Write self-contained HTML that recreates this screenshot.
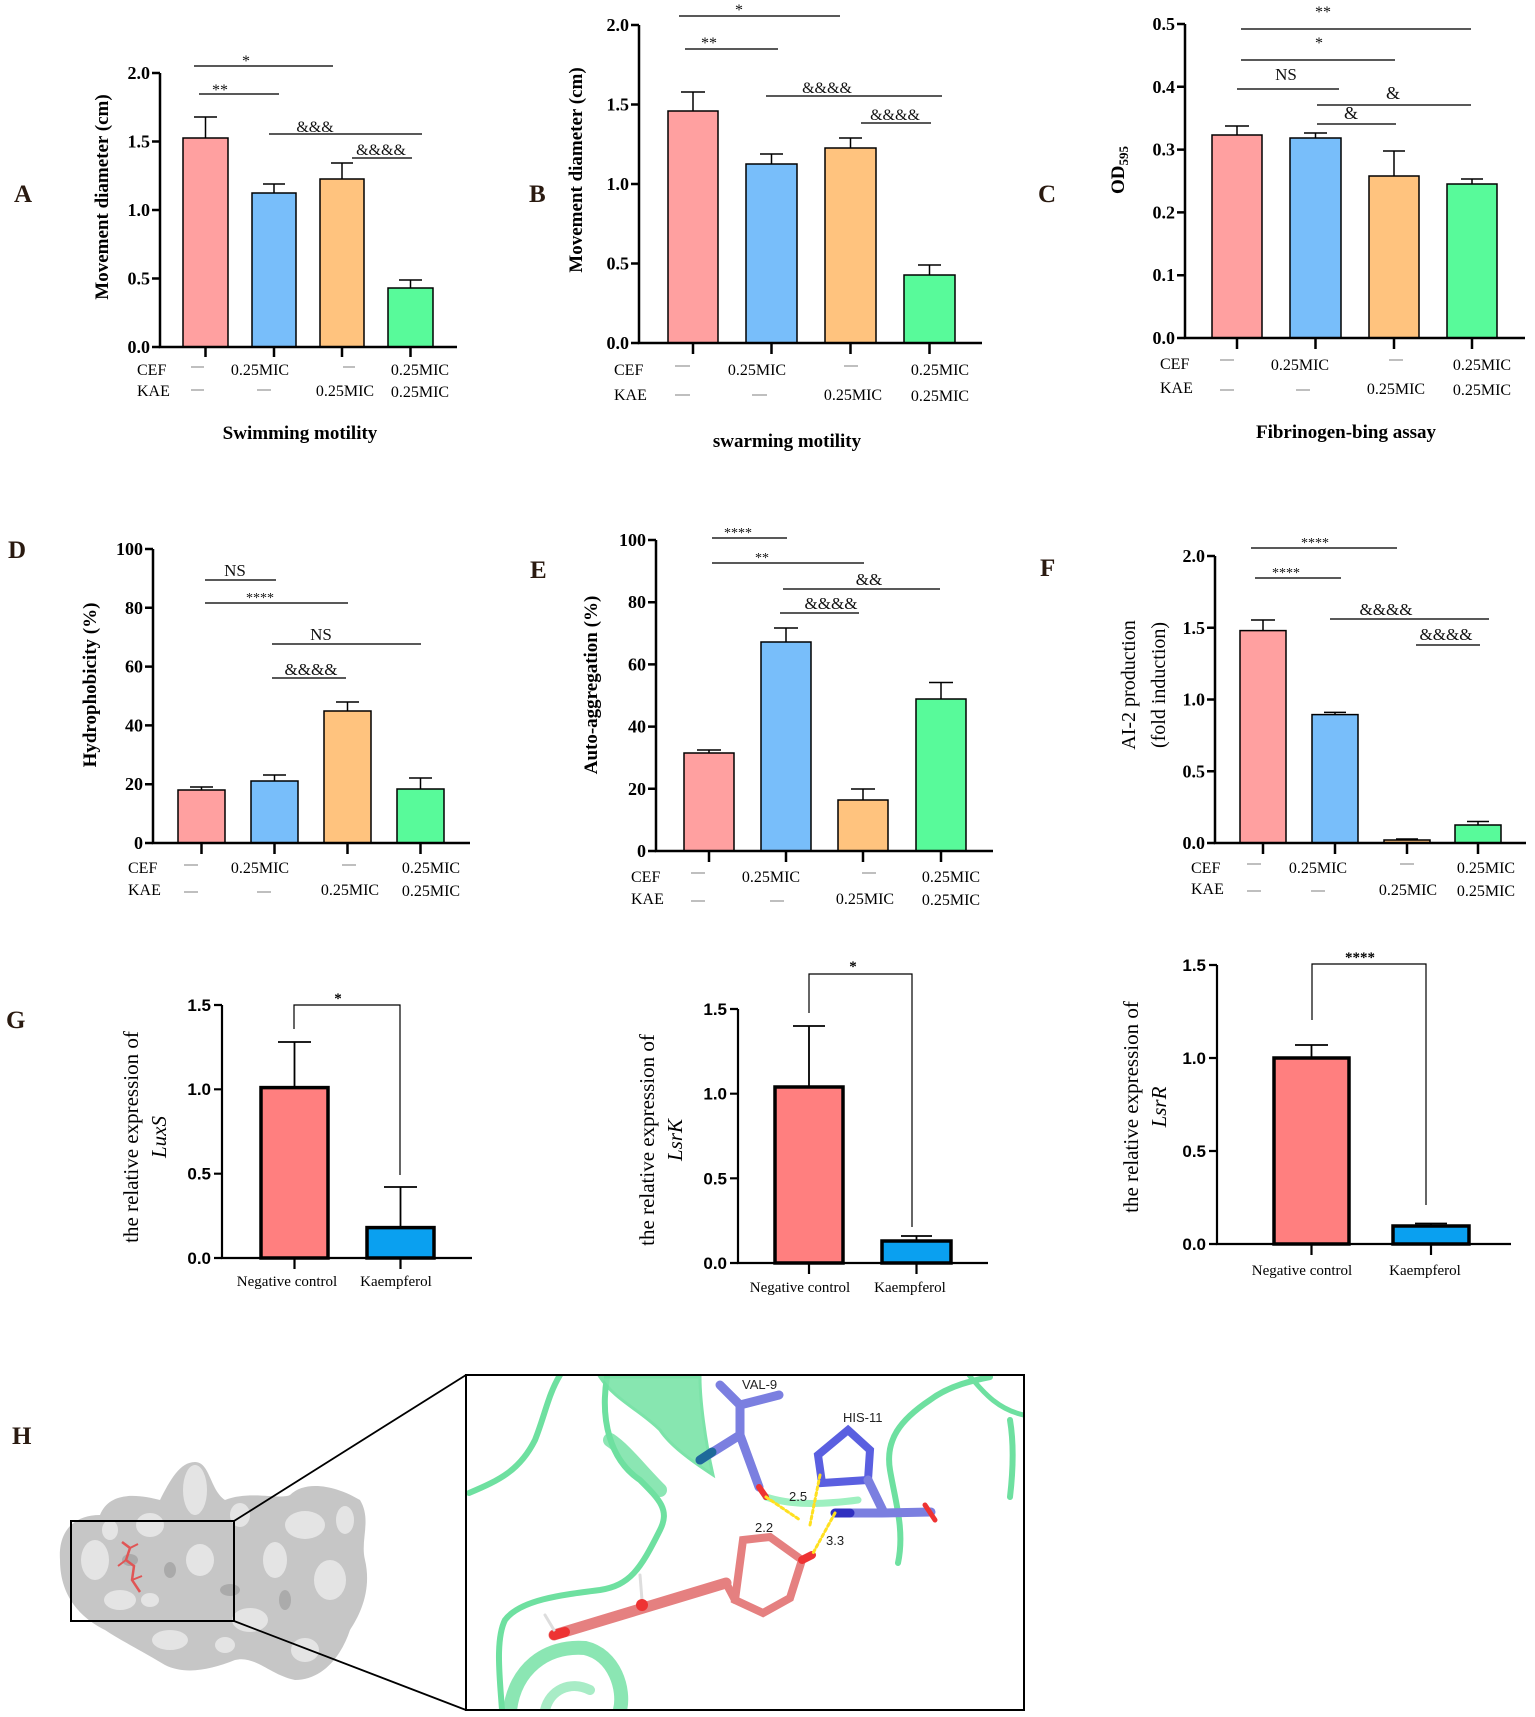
<!DOCTYPE html>
<html><head><meta charset="utf-8"><style>
html,body{margin:0;padding:0;background:#fff;}
svg{display:block;}
.t{font-family:"Liberation Serif",serif;}
.tb{font-family:"Liberation Serif",serif;font-weight:bold;}
.s{font-family:"Liberation Sans",sans-serif;}
</style></head><body>
<svg width="1535" height="1717" viewBox="0 0 1535 1717" xmlns="http://www.w3.org/2000/svg">
<rect width="1535" height="1717" fill="#fff"/>

<!-- Panel letters -->
<g class="tb" font-size="25" fill="#2a1a10">
<text x="14" y="202">A</text><text x="529" y="202">B</text><text x="1038" y="202">C</text>
<text x="8" y="558">D</text><text x="530" y="578">E</text><text x="1040" y="576">F</text>
<text x="6" y="1028">G</text><text x="12" y="1444">H</text>
</g>

<!-- ===== A ===== -->
<g stroke="#000" fill="none">
<rect x="183" y="138" width="45" height="209" fill="#FFA0A0" stroke-width="1.5"/>
<rect x="252" y="193" width="44" height="154" fill="#78BEFA" stroke-width="1.5"/>
<rect x="320" y="179" width="44" height="168" fill="#FFC37E" stroke-width="1.5"/>
<rect x="388" y="288" width="45" height="59" fill="#58FA9A" stroke-width="1.5"/>
<path d="M205.5 138V117M194 117H217M274 193V184M263 184H285M342 179V163M331 163H353M410.5 288V280M399 280H422" stroke-width="1.5"/>
<path d="M160 73V347H457" stroke-width="2.5"/>
<path d="M152 73H160M152 141.5H160M152 210H160M152 278.5H160M152 347H160M205.5 347V357M274 347V357M342 347V357M410.5 347V357" stroke-width="2.5"/>
<path d="M194 66H333M199 94H279M269 134H422M352 158H412" stroke="#222" stroke-width="1.6"/>
</g>
<g class="tb" font-size="18" text-anchor="end"><text x="150" y="79">2.0</text><text x="150" y="147.5">1.5</text><text x="150" y="216">1.0</text><text x="150" y="284.5">0.5</text><text x="150" y="353">0.0</text></g>
<g class="t" font-size="16" text-anchor="middle" fill="#111"><text x="246" y="66">*</text><text x="220" y="95">**</text><text x="315" y="132">&amp;&amp;&amp;</text><text x="381" y="155">&amp;&amp;&amp;&amp;</text></g>
<text class="tb" font-size="19" transform="translate(108,197) rotate(-90)" text-anchor="middle">Movement diameter (cm)</text>

<!-- ===== B ===== -->
<g stroke="#000" fill="none">
<rect x="668" y="111" width="50" height="232" fill="#FFA0A0" stroke-width="1.5"/>
<rect x="746" y="164" width="51" height="179" fill="#78BEFA" stroke-width="1.5"/>
<rect x="825" y="148" width="51" height="195" fill="#FFC37E" stroke-width="1.5"/>
<rect x="904" y="275" width="51" height="68" fill="#58FA9A" stroke-width="1.5"/>
<path d="M693 111V92M681 92H705M771.5 164V154M760 154H783M850.5 148V138M839 138H862M929.5 275V265M918 265H941" stroke-width="1.5"/>
<path d="M639 25V343H982" stroke-width="2.5"/>
<path d="M631 25H639M631 104.5H639M631 184H639M631 263.5H639M631 343H639M693 343V354M771.5 343V354M850.5 343V354M929.5 343V354" stroke-width="2.5"/>
<path d="M679 16H840M685 49H778M766 96H942M861 123H931" stroke="#222" stroke-width="1.6"/>
</g>
<g class="tb" font-size="18" text-anchor="end"><text x="629" y="31">2.0</text><text x="629" y="110.5">1.5</text><text x="629" y="190">1.0</text><text x="629" y="269.5">0.5</text><text x="629" y="349">0.0</text></g>
<g class="t" font-size="16" text-anchor="middle" fill="#111"><text x="739" y="15">*</text><text x="709" y="48">**</text><text x="827" y="93">&amp;&amp;&amp;&amp;</text><text x="895" y="120">&amp;&amp;&amp;&amp;</text></g>
<text class="tb" font-size="19" transform="translate(582,170) rotate(-90)" text-anchor="middle">Movement diameter (cm)</text>

<!-- ===== C ===== -->
<g stroke="#000" fill="none">
<rect x="1212" y="135" width="50" height="203" fill="#FFA0A0" stroke-width="1.5"/>
<rect x="1290" y="138" width="51" height="200" fill="#78BEFA" stroke-width="1.5"/>
<rect x="1369" y="176" width="50" height="162" fill="#FFC37E" stroke-width="1.5"/>
<rect x="1447" y="184" width="50" height="154" fill="#58FA9A" stroke-width="1.5"/>
<path d="M1237 135V126M1225 126H1249M1315.5 138V133M1304 133H1327M1394 176V151M1383 151H1405M1472 184V179M1461 179H1483" stroke-width="1.5"/>
<path d="M1185 24V338H1525" stroke-width="2.5"/>
<path d="M1177 24H1185M1177 86.8H1185M1177 149.6H1185M1177 212.4H1185M1177 275.2H1185M1177 338H1185M1237 338V349M1315.5 338V349M1394 338V349M1472 338V349" stroke-width="2.5"/>
<path d="M1241 29H1471M1241 60H1395M1237 89H1339M1317 105H1471M1317 124H1396" stroke="#222" stroke-width="1.6"/>
</g>
<g class="tb" font-size="18" text-anchor="end"><text x="1175" y="30">0.5</text><text x="1175" y="92.8">0.4</text><text x="1175" y="155.6">0.3</text><text x="1175" y="218.4">0.2</text><text x="1175" y="281.2">0.1</text><text x="1175" y="344">0.0</text></g>
<g class="t" font-size="16" text-anchor="middle" fill="#111"><text x="1323" y="17">**</text><text x="1319" y="48">*</text><text x="1286" y="80" font-size="17">NS</text><text x="1393" y="99" font-size="18">&amp;</text><text x="1351" y="119" font-size="18">&amp;</text></g>
<text class="tb" font-size="19" transform="translate(1124,170) rotate(-90)" text-anchor="middle">OD<tspan font-size="13" dy="4">595</tspan></text>

<!-- Row 1 category labels -->
<g class="t" font-size="16">
<text x="137" y="375">CEF</text><text x="137" y="396">KAE</text>
<text x="614" y="375">CEF</text><text x="614" y="400">KAE</text>
<text x="1160" y="369">CEF</text><text x="1160" y="393">KAE</text>
</g>
<g class="t" font-size="16" text-anchor="middle">
<text x="260" y="375">0.25MIC</text><text x="420" y="375">0.25MIC</text><text x="345" y="396">0.25MIC</text><text x="420" y="397">0.25MIC</text>
<text x="757" y="375">0.25MIC</text><text x="940" y="375">0.25MIC</text><text x="853" y="400">0.25MIC</text><text x="940" y="401">0.25MIC</text>
<text x="1300" y="370">0.25MIC</text><text x="1482" y="370">0.25MIC</text><text x="1396" y="394">0.25MIC</text><text x="1482" y="395">0.25MIC</text>
</g>
<g stroke="#aaa" stroke-width="1.5">
<path d="M191 367H204M343 367H355M191 390H204M257 390H271"/>
<path d="M675 366H690M844 366H858M675 395H690M752 395H767"/>
<path d="M1220 360H1234M1389 360H1403M1220 390H1234M1296 390H1310"/>
</g>
<g class="tb" font-size="19" text-anchor="middle">
<text x="300" y="439">Swimming motility</text><text x="787" y="447">swarming motility</text><text x="1346" y="438">Fibrinogen-bing assay</text>
</g>

<!-- ===== D ===== -->
<g stroke="#000" fill="none">
<rect x="178" y="790" width="47" height="53" fill="#FFA0A0" stroke-width="1.5"/>
<rect x="251" y="781" width="47" height="62" fill="#78BEFA" stroke-width="1.5"/>
<rect x="324" y="711" width="47" height="132" fill="#FFC37E" stroke-width="1.5"/>
<rect x="397" y="789" width="47" height="54" fill="#58FA9A" stroke-width="1.5"/>
<path d="M201.5 790V787M190 787H213M274.5 781V775M263 775H286M347.5 711V702M336 702H359M420.5 789V778M409 778H432" stroke-width="1.5"/>
<path d="M153 549V843H470" stroke-width="2.5"/>
<path d="M145 549H153M145 607.8H153M145 666.6H153M145 725.4H153M145 784.2H153M145 843H153M201.5 843V854M274.5 843V854M347.5 843V854M420.5 843V854" stroke-width="2.5"/>
<path d="M205 580H276M205 603H348M272 644H421M272 678H346" stroke="#222" stroke-width="1.6"/>
</g>
<g class="tb" font-size="18" text-anchor="end"><text x="143" y="555">100</text><text x="143" y="613.8">80</text><text x="143" y="672.6">60</text><text x="143" y="731.4">40</text><text x="143" y="790.2">20</text><text x="143" y="849">0</text></g>
<g class="t" font-size="17" text-anchor="middle" fill="#111"><text x="235" y="576">NS</text><text x="260" y="602" font-size="14">****</text><text x="321" y="640">NS</text><text x="311" y="675">&amp;&amp;&amp;&amp;</text></g>
<text class="tb" font-size="19" transform="translate(96,685) rotate(-90)" text-anchor="middle">Hydrophobicity (%)</text>

<!-- ===== E ===== -->
<g stroke="#000" fill="none">
<rect x="684" y="753" width="50" height="98" fill="#FFA0A0" stroke-width="1.5"/>
<rect x="761" y="642" width="50" height="209" fill="#78BEFA" stroke-width="1.5"/>
<rect x="838" y="800" width="50" height="51" fill="#FFC37E" stroke-width="1.5"/>
<rect x="916" y="699" width="50" height="152" fill="#58FA9A" stroke-width="1.5"/>
<path d="M709 753V750M697 750H721M786 642V628M774 628H798M863 800V789M851 789H875M941 699V682.5M929 682.5H953" stroke-width="1.5"/>
<path d="M656 540V851H993" stroke-width="2.5"/>
<path d="M648 540H656M648 602.2H656M648 664.4H656M648 726.6H656M648 788.8H656M648 851H656M709 851V862M786 851V862M863 851V862M941 851V862" stroke-width="2.5"/>
<path d="M712 538H787M712 563H864M783 589H940M780 613H859" stroke="#222" stroke-width="1.6"/>
</g>
<g class="tb" font-size="18" text-anchor="end"><text x="646" y="546">100</text><text x="646" y="608.2">80</text><text x="646" y="670.4">60</text><text x="646" y="732.6">40</text><text x="646" y="794.8">20</text><text x="646" y="857">0</text></g>
<g class="t" font-size="17" text-anchor="middle" fill="#111"><text x="738" y="537" font-size="14">****</text><text x="762" y="562" font-size="14">**</text><text x="869" y="585">&amp;&amp;</text><text x="831" y="609">&amp;&amp;&amp;&amp;</text></g>
<text class="tb" font-size="19" transform="translate(597,685) rotate(-90)" text-anchor="middle">Auto-aggregation (%)</text>

<!-- ===== F ===== -->
<g stroke="#000" fill="none">
<rect x="1240" y="630.6" width="46" height="212.4" fill="#FFA0A0" stroke-width="1.5"/>
<rect x="1312" y="714.6" width="46" height="128.4" fill="#78BEFA" stroke-width="1.5"/>
<rect x="1384" y="840" width="46" height="3" fill="#FFC37E" stroke-width="1.5"/>
<rect x="1455" y="825" width="46" height="18" fill="#58FA9A" stroke-width="1.5"/>
<path d="M1263 630.6V620M1251 620H1275M1335 714.6V712.4M1324 712.4H1346M1407 840V839M1396 839H1418M1478 825V821.5M1467 821.5H1489" stroke-width="1.5"/>
<path d="M1215 556V843H1526" stroke-width="2.5"/>
<path d="M1207 556H1215M1207 627.75H1215M1207 699.5H1215M1207 771.25H1215M1207 843H1215M1263 843V854M1335 843V854M1407 843V854M1478 843V854" stroke-width="2.5"/>
<path d="M1251 548H1397M1255 578H1341M1330 619H1489M1416 645H1480" stroke="#222" stroke-width="1.6"/>
</g>
<g class="tb" font-size="18" text-anchor="end"><text x="1205" y="562">2.0</text><text x="1205" y="633.75">1.5</text><text x="1205" y="705.5">1.0</text><text x="1205" y="777.25">0.5</text><text x="1205" y="849">0.0</text></g>
<g class="t" font-size="14" text-anchor="middle" fill="#111"><text x="1315" y="547">****</text><text x="1286" y="577">****</text><text x="1386" y="615" font-size="17">&amp;&amp;&amp;&amp;</text><text x="1446" y="640" font-size="17">&amp;&amp;&amp;&amp;</text></g>
<g class="t" font-size="20" text-anchor="middle"><text transform="translate(1135,685) rotate(-90)">AI-2 production</text><text transform="translate(1165,685) rotate(-90)">(fold induction)</text></g>

<!-- Row 2 category labels -->
<g class="t" font-size="16">
<text x="128" y="873">CEF</text><text x="128" y="895">KAE</text>
<text x="631" y="882">CEF</text><text x="631" y="904">KAE</text>
<text x="1191" y="873">CEF</text><text x="1191" y="894">KAE</text>
</g>
<g class="t" font-size="16" text-anchor="middle">
<text x="260" y="873">0.25MIC</text><text x="431" y="873">0.25MIC</text><text x="350" y="895">0.25MIC</text><text x="431" y="896">0.25MIC</text>
<text x="771" y="882">0.25MIC</text><text x="951" y="882">0.25MIC</text><text x="865" y="904">0.25MIC</text><text x="951" y="905">0.25MIC</text>
<text x="1318" y="873">0.25MIC</text><text x="1486" y="873">0.25MIC</text><text x="1408" y="895">0.25MIC</text><text x="1486" y="896">0.25MIC</text>
</g>
<g stroke="#aaa" stroke-width="1.5">
<path d="M184 865H198M342 865H356M184 892H198M257 892H271"/>
<path d="M691 873H705M862 873H876M691 901H705M770 901H784"/>
<path d="M1247 864H1261M1400 864H1414M1247 891H1261M1311 891H1325"/>
</g>

<!-- ===== G1 ===== -->
<g stroke="#000" fill="none">
<path d="M294.5 1087.6V1042M278 1042H311M400.5 1227.6V1187M384 1187H417" stroke-width="1.8"/>
<rect x="261" y="1087.6" width="67" height="170.4" fill="#FF7F7F" stroke-width="3.5"/>
<rect x="367" y="1227.6" width="67" height="30.4" fill="#0AA0F0" stroke-width="3.5"/>
<path d="M222 1005V1258H472" stroke-width="2.2"/>
<path d="M214 1005H222M214 1089.3H222M214 1173.7H222M214 1258H222M294.5 1258V1269M400.5 1258V1269" stroke-width="2.2"/>
<path d="M294 1029V1005H400V1175" stroke-width="1.2"/>
</g>
<g class="s" font-size="17" font-weight="bold" text-anchor="end"><text x="211" y="1011">1.5</text><text x="211" y="1095">1.0</text><text x="211" y="1179.7">0.5</text><text x="211" y="1264">0.0</text></g>
<text class="tb" x="338" y="1003" font-size="15" text-anchor="middle">*</text>
<g class="t" font-size="15" text-anchor="middle"><text x="287" y="1286">Negative control</text><text x="396" y="1286">Kaempferol</text></g>
<g class="t" font-size="21" text-anchor="middle"><text transform="translate(138,1137) rotate(-90)">the relative expression of</text><text font-style="italic" transform="translate(166,1137) rotate(-90)">LuxS</text></g>

<!-- ===== G2 ===== -->
<g stroke="#000" fill="none">
<path d="M809 1087V1026M793 1026H825M916.5 1241V1236M901 1236H932" stroke-width="1.8"/>
<rect x="775" y="1087" width="68" height="176" fill="#FF7F7F" stroke-width="3.5"/>
<rect x="882" y="1241" width="69" height="22" fill="#0AA0F0" stroke-width="3.5"/>
<path d="M738 1009V1263H988" stroke-width="2.2"/>
<path d="M730 1009H738M730 1093.7H738M730 1178.3H738M730 1263H738M809 1263V1274M916.5 1263V1274" stroke-width="2.2"/>
<path d="M809 1013V974H912V1227" stroke-width="1.2"/>
</g>
<g class="s" font-size="17" font-weight="bold" text-anchor="end"><text x="727" y="1015">1.5</text><text x="727" y="1099.7">1.0</text><text x="727" y="1184.3">0.5</text><text x="727" y="1269">0.0</text></g>
<text class="tb" x="853" y="971" font-size="15" text-anchor="middle">*</text>
<g class="t" font-size="15" text-anchor="middle"><text x="800" y="1292">Negative control</text><text x="910" y="1292">Kaempferol</text></g>
<g class="t" font-size="21" text-anchor="middle"><text transform="translate(654,1140) rotate(-90)">the relative expression of</text><text font-style="italic" transform="translate(682,1140) rotate(-90)">LsrK</text></g>

<!-- ===== G3 ===== -->
<g stroke="#000" fill="none">
<path d="M1311.5 1058V1045M1295 1045H1328M1431 1226V1223.5M1415 1223.5H1447" stroke-width="1.8"/>
<rect x="1274" y="1058" width="75" height="186" fill="#FF7F7F" stroke-width="3.5"/>
<rect x="1393" y="1226" width="76" height="18" fill="#0AA0F0" stroke-width="3.5"/>
<path d="M1217 965V1244H1511" stroke-width="2.2"/>
<path d="M1209 965H1217M1209 1058H1217M1209 1151H1217M1209 1244H1217M1311.5 1244V1255M1431 1244V1255" stroke-width="2.2"/>
<path d="M1312 1020V964H1426V1205" stroke-width="1.2"/>
</g>
<g class="s" font-size="17" font-weight="bold" text-anchor="end"><text x="1206" y="971">1.5</text><text x="1206" y="1064">1.0</text><text x="1206" y="1157">0.5</text><text x="1206" y="1250">0.0</text></g>
<text class="tb" x="1360" y="962" font-size="15" text-anchor="middle">****</text>
<g class="t" font-size="15" text-anchor="middle"><text x="1302" y="1275">Negative control</text><text x="1425" y="1275">Kaempferol</text></g>
<g class="t" font-size="21" text-anchor="middle"><text transform="translate(1138,1107) rotate(-90)">the relative expression of</text><text font-style="italic" transform="translate(1166,1107) rotate(-90)">LsrR</text></g>

<!-- ===== H ===== -->
<g>
<path d="M60 1560 C58 1530 75 1515 100 1515 C110 1490 140 1495 160 1500 C170 1480 180 1462 195 1462 C210 1462 210 1490 225 1500 C250 1490 280 1500 290 1495 C305 1480 335 1485 360 1500 C372 1520 360 1540 365 1560 C372 1590 360 1615 350 1630 C340 1660 320 1680 295 1680 C270 1675 255 1655 235 1660 C210 1670 185 1675 165 1665 C140 1650 120 1640 105 1630 C85 1620 60 1600 60 1560Z" fill="#c6c6c6"/>
<g fill="#e6e6e6" opacity="0.95">
<ellipse cx="195" cy="1490" rx="12" ry="25"/><ellipse cx="95" cy="1560" rx="14" ry="20"/><ellipse cx="150" cy="1525" rx="14" ry="12"/>
<ellipse cx="305" cy="1525" rx="20" ry="14"/><ellipse cx="330" cy="1580" rx="16" ry="20"/><ellipse cx="250" cy="1620" rx="18" ry="12"/>
<ellipse cx="120" cy="1600" rx="16" ry="10"/><ellipse cx="200" cy="1560" rx="14" ry="16"/><ellipse cx="275" cy="1560" rx="12" ry="18"/>
<ellipse cx="170" cy="1640" rx="18" ry="10"/><ellipse cx="305" cy="1650" rx="14" ry="12"/><ellipse cx="240" cy="1515" rx="10" ry="12"/>
<ellipse cx="110" cy="1530" rx="8" ry="10"/><ellipse cx="345" cy="1520" rx="9" ry="14"/><ellipse cx="225" cy="1645" rx="10" ry="8"/><ellipse cx="150" cy="1600" rx="9" ry="7"/>
</g>
<g fill="#999" opacity="0.6">
<ellipse cx="170" cy="1570" rx="6" ry="8"/><ellipse cx="230" cy="1590" rx="10" ry="6"/><ellipse cx="285" cy="1600" rx="6" ry="10"/><ellipse cx="130" cy="1560" rx="8" ry="6"/>
</g>
<path d="M122 1542 L130 1548 L126 1560 L134 1566 L132 1580 L140 1592" stroke="#e05555" stroke-width="2.5" fill="none"/>
<path d="M130 1548 L138 1544 M126 1560 L118 1566 M132 1580 L142 1576" stroke="#e05555" stroke-width="2" fill="none"/>
</g>
<rect x="71" y="1521" width="163" height="100" fill="none" stroke="#000" stroke-width="2"/>
<path d="M234 1521L466 1375M234 1621L466 1710" stroke="#000" stroke-width="1.8"/>

<svg x="466" y="1375" width="558" height="335" viewBox="466 1375 558 335">
<g fill="none" stroke="#6ee0a0" stroke-linecap="round">
<path d="M469 1493 C500 1480 520 1470 535 1440 C545 1415 548 1395 560 1375" stroke-width="6"/>
<path d="M607 1377 C600 1420 610 1460 640 1480 C660 1500 670 1510 660 1530 C640 1570 630 1585 600 1590 C560 1595 520 1600 505 1620 C495 1640 500 1680 502 1710" stroke-width="6"/>
<path d="M600 1377 C615 1400 640 1410 660 1430 C670 1445 690 1460 713 1475 C705 1440 700 1400 700 1377Z" fill="#7be4a8" stroke-width="3" opacity="0.9"/>
<path d="M610 1440 C625 1450 640 1470 660 1490" stroke-width="14" opacity="0.8"/>
<path d="M766 1497 C790 1505 820 1505 858 1500" stroke-width="7" stroke="#9ef0c0"/>
<path d="M898 1563 C905 1530 895 1500 890 1470 C885 1440 900 1420 930 1400 C950 1385 975 1380 990 1377" stroke-width="6"/>
<path d="M1010 1420 C1015 1450 1012 1480 1010 1497" stroke-width="6"/>
<path d="M510 1710 C515 1670 545 1645 585 1648 C615 1655 625 1690 620 1710" stroke-width="14" opacity="0.8"/>
<path d="M545 1710 C550 1690 570 1680 590 1690" stroke-width="10" opacity="0.6"/>
<path d="M969 1375 C985 1395 1000 1410 1024 1415" stroke-width="5"/>
</g>
<g fill="none" stroke-linecap="round">
<path d="M720 1385 L740 1405 L779 1395 M740 1405 L740 1435 L700 1460 M740 1435 L759 1487" stroke="#7b7fe0" stroke-width="9"/>
<path d="M700 1460 L712 1452" stroke="#1e6a9a" stroke-width="9"/>
<path d="M759 1487 L766 1497" stroke="#e33" stroke-width="6"/>
<path d="M848 1430 L870 1450 L868 1480 L822 1483 L818 1455 Z" stroke="#5a5fe0" stroke-width="8"/>
<path d="M868 1480 L884 1513 L931 1512 M884 1513 L850 1513" stroke="#7b7fe0" stroke-width="9"/>
<path d="M835 1513 L850 1513" stroke="#3030c0" stroke-width="9"/>
<path d="M925 1505 L935 1520" stroke="#e33" stroke-width="5"/>
<path d="M554 1635 L726 1583" stroke="#e58080" stroke-width="11"/>
<path d="M743 1540 L770 1537 L802 1560 L790 1598 L763 1613 L735 1600 Z" stroke="#e58080" stroke-width="8"/>
<path d="M726 1583 L735 1600" stroke="#e58080" stroke-width="8"/>
<path d="M554 1635 L565 1632" stroke="#e33" stroke-width="10"/>
<path d="M802 1560 L812 1555" stroke="#e33" stroke-width="8"/>
<path d="M545 1615 L554 1630 M640 1575 L642 1600" stroke="#ddd" stroke-width="3"/>
<circle cx="642" cy="1605" r="6" fill="#e33"/>
<path d="M766 1497 L800 1520 M835 1513 L812 1555 M820 1475 L810 1525" stroke="#ffe020" stroke-width="3" stroke-dasharray="3 3"/>
</g>
<g class="s" font-size="13" fill="#222">
<text x="742" y="1389">VAL-9</text><text x="843" y="1422">HIS-11</text>
<text x="789" y="1501">2.5</text><text x="755" y="1532">2.2</text><text x="826" y="1545">3.3</text>
</g>
</svg>
<rect x="466" y="1375" width="558" height="335" fill="none" stroke="#000" stroke-width="2"/>
</svg>
</body></html>
